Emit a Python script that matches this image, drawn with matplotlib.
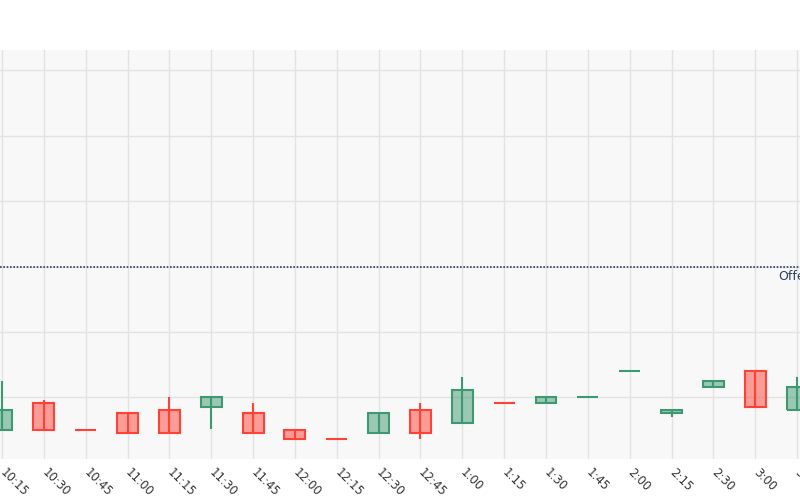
import numpy as np
import matplotlib
matplotlib.use("Agg")
from matplotlib import pyplot as plt
from matplotlib.patches import Rectangle

# dati delle candele (prezzi)
times = ['10:15', '10:30', '10:45', '11:00', '11:15', '11:30', '11:45', '12:00',
         '12:15', '12:30', '12:45', '1:00', '1:15', '1:30', '1:45', '2:00',
         '2:15', '2:30', '3:00', '3:15']
opens = [10.125, 10.227, 10.126, 10.190, 10.201, 10.214, 10.190, 10.125,
         10.089, 10.115, 10.201, 10.152, 10.227, 10.227, 10.252, 10.352,
         10.189, 10.288, 10.352, 10.200]
closes = [10.201, 10.125, 10.126, 10.115, 10.115, 10.252, 10.115, 10.089,
          10.089, 10.189, 10.115, 10.277, 10.227, 10.251, 10.2521, 10.3521,
          10.203, 10.313, 10.214, 10.289]
highs = [10.312, 10.240, 10.126, 10.190, 10.252, 10.252, 10.227, 10.125,
         10.089, 10.189, 10.227, 10.326, 10.227, 10.251, 10.2521, 10.3521,
         10.203, 10.313, 10.352, 10.326]
lows = [10.125, 10.125, 10.126, 10.115, 10.115, 10.128, 10.115, 10.089,
        10.089, 10.115, 10.089, 10.152, 10.227, 10.227, 10.252, 10.352,
        10.176, 10.288, 10.214, 10.200]
offer = 10.75

green = '#3D9970'
red = '#FF4136'

fig = plt.figure(figsize=(8, 5), dpi=100)
ax = fig.add_axes([0, 0.082, 1, 0.818])
ax.set_facecolor('#f8f8f8')

x = np.arange(len(times))
w = 0.5
for i in x:
    o, c, h, l = opens[i], closes[i], highs[i], lows[i]
    col = green if c > o else red
    ax.plot([i, i], [l, h], color=col, lw=1.5, zorder=2, solid_capstyle='butt')
    ax.add_patch(Rectangle((i - w / 2, min(o, c)), w, abs(c - o),
                           facecolor=col, alpha=0.5, edgecolor='none', zorder=3))
    ax.add_patch(Rectangle((i - w / 2, min(o, c)), w, abs(c - o),
                           facecolor='none', edgecolor=col, lw=1.5, zorder=4))

# linea dell'offerta
ax.axhline(offer, color='#2a3f5f', lw=1.2, linestyle=(0, (1, 1)), zorder=5)
ax.text(18.55, offer - 0.012, 'Offer', color='#2a3f5f', fontsize=9,
        va='top', ha='left', zorder=6)

ax.set_xlim(-0.048, 19.07)
ax.set_ylim(10.014, 11.578)
ax.set_yticks(np.arange(10.25, 11.55, 0.25))
ax.set_yticklabels([])
ax.set_xticks(x)
ax.set_xticklabels(times, rotation=-45, ha='left', va='center',
                   rotation_mode='anchor', fontsize=8.5, color='#333333')
ax.tick_params(length=0, pad=8)
ax.grid(True, color='#e3e3e3', lw=1, zorder=0)
ax.set_axisbelow(True)
for s in ax.spines.values():
    s.set_visible(False)

plt.savefig("out.png", dpi=100)
plt.close()
